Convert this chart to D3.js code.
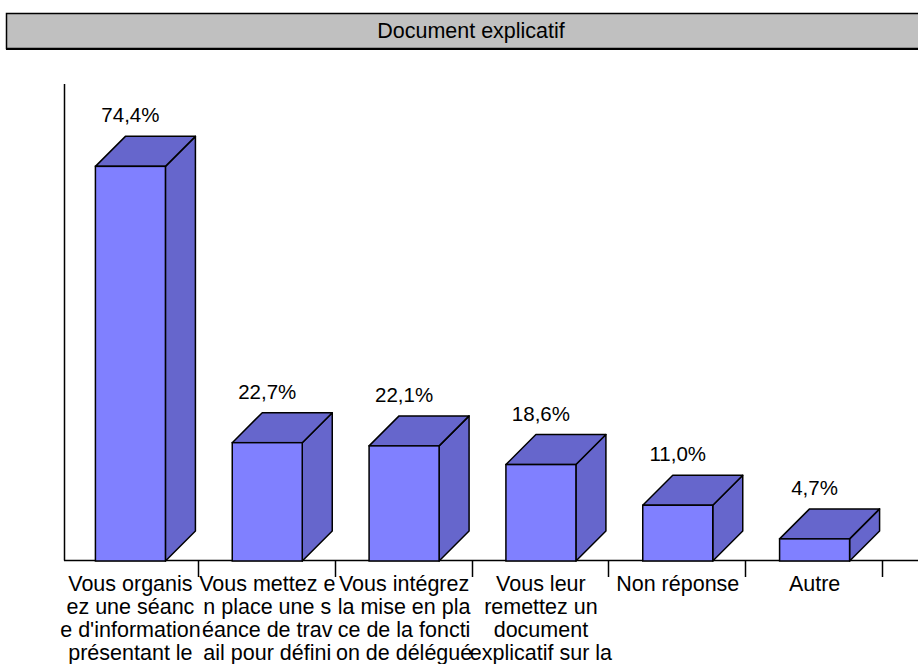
<!DOCTYPE html>
<html>
<head>
<meta charset="utf-8">
<script src="https://cdn.jsdelivr.net/npm/d3@7"></script>
<style>
  html, body { margin: 0; padding: 0; background: #fff; }
  svg { display: block; font-family: Arial, "Liberation Sans", sans-serif; }
</style>
</head>
<body>
<svg id="chart" width="918" height="664"></svg>
<script>
const title = "Document explicatif";
const categories = [
  ["Vous organis", "ez une séanc", "e d'information", "présentant le"],
  ["Vous mettez e", "n place une s", "éance de trav", "ail pour défini"],
  ["Vous intégrez", "la mise en pla", "ce de la foncti", "on de délégué"],
  ["Vous leur", "remettez un", "document", "explicatif sur la"],
  ["Non réponse"],
  ["Autre"]
];
const values = [74.4, 22.7, 22.1, 18.6, 11.0, 4.7];
const valueLabels = ["74,4%", "22,7%", "22,1%", "18,6%", "11,0%", "4,7%"];

const svg = d3.select("#chart");
const baseY = 560.5;
const depth = 30;
const barW = 70;

// Title box
svg.append("rect").attr("x", 6.5).attr("y", 13.5).attr("width", 1000).attr("height", 35)
  .attr("fill", "#C0C0C0").attr("stroke", "#000").attr("stroke-width", 1.5);
svg.append("line").attr("x1", 6).attr("x2", 918).attr("y1", 49).attr("y2", 49)
  .attr("stroke", "#000").attr("stroke-width", 2);
svg.append("text").attr("x", 471).attr("y", 37.5).attr("text-anchor", "middle")
  .attr("font-size", "21.5px").attr("fill", "#000").text(title);

const idx = d3.range(values.length);
const x = d3.scaleBand().domain(idx).range([62, 883]).paddingInner(0).paddingOuter(0);
const y = d3.scaleLinear().domain([0, 90]).range([564, 83]);

// Axes
svg.append("line").attr("x1", 64.5).attr("x2", 64.5).attr("y1", 84).attr("y2", baseY)
  .attr("stroke", "#000").attr("stroke-width", 1.5);
svg.append("line").attr("x1", 64).attr("x2", 918).attr("y1", baseY).attr("y2", baseY)
  .attr("stroke", "#000").attr("stroke-width", 1.5);
idx.forEach(i => {
  const tx = Math.round(x(i) + x.step()) - 0.5;
  svg.append("line").attr("x1", tx).attr("x2", tx).attr("y1", baseY).attr("y2", 577)
    .attr("stroke", "#000").attr("stroke-width", 1.5);
});

// Bars
const g = svg.append("g");
idx.forEach(i => {
  const cx = x(i) + x.bandwidth() / 2;
  const x0 = cx - barW / 2, x1 = cx + barW / 2;
  const yt = y(values[i]);
  const yb = baseY + 0.5;
  g.append("polygon")
    .attr("points", [[x1, yt], [x1 + depth, yt - depth], [x1 + depth, yb - depth], [x1, yb]].map(p => p.join(",")).join(" "))
    .attr("fill", "#6666CC").attr("stroke", "#000").attr("stroke-width", 1.5).attr("stroke-linejoin", "round");
  g.append("polygon")
    .attr("points", [[x0, yt], [x0 + depth, yt - depth], [x1 + depth, yt - depth], [x1, yt]].map(p => p.join(",")).join(" "))
    .attr("fill", "#6666CC").attr("stroke", "#000").attr("stroke-width", 1.5).attr("stroke-linejoin", "round");
  g.append("rect").attr("x", x0).attr("y", yt).attr("width", barW).attr("height", yb - yt)
    .attr("fill", "#8080FF").attr("stroke", "#000").attr("stroke-width", 1.5);
  svg.append("text").attr("x", cx).attr("y", yt - depth - 14).attr("text-anchor", "middle")
    .attr("font-size", "20.5px").attr("fill", "#000").text(valueLabels[i]);
  const t = svg.append("text").attr("text-anchor", "middle").attr("font-size", "21.5px").attr("fill", "#000");
  categories[i].forEach((line, k) => {
    t.append("tspan").attr("x", cx).attr("y", 591 + k * 23).text(line);
  });
});
</script>
</body>
</html>
